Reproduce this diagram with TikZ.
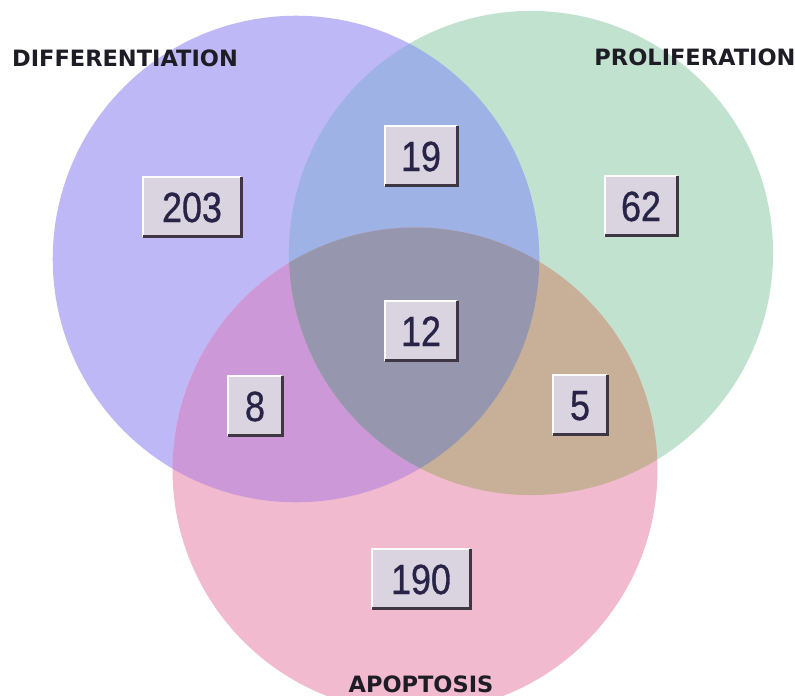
\documentclass[tikz,border=0pt]{standalone}
\usepackage{fontspec}
\setmainfont{Liberation Sans}
\newfontfamily\namefont{DejaVu Sans}
\newfontfamily\numfont[FakeStretch=0.85,FakeBold=0.8]{Liberation Sans}
\usetikzlibrary{positioning}

\definecolor{diffcol}{RGB}{190,184,246}
\definecolor{prolcol}{RGB}{194,226,208}
\definecolor{apopcol}{RGB}{241,186,206}
\definecolor{dpcol}{RGB}{158,178,230}
\definecolor{dacol}{RGB}{205,152,216}
\definecolor{pacol}{RGB}{200,176,152}
\definecolor{allcol}{RGB}{150,150,174}
\definecolor{boxfill}{RGB}{218,212,224}
\definecolor{boxedge}{RGB}{62,54,66}
\definecolor{numcol}{RGB}{40,36,72}
\definecolor{namecol}{RGB}{30,28,36}

\tikzset{
    count/.style={fill=boxfill, text=numcol, font=\numfont\fontsize{30}{30}\selectfont,
        inner xsep=0pt, inner ysep=0pt, minimum width=1.35cm, minimum height=1.47cm,
        text height=0.75cm, text depth=0pt},
    wide/.style={minimum width=1.8cm},
    wider/.style={minimum width=2.45cm},
    setname/.style={text=namecol, inner sep=0pt, font=\namefont\bfseries\fontsize{16}{16}\selectfont},
    shadow/.style={boxedge, line width=2.2pt},
    light/.style={white!92!boxfill, line width=1.4pt}
}

\begin{document}
\begin{tikzpicture}[x=0.025cm, y=-0.025cm]
    \clip (0,0) rectangle (795,696);
    \fill[white] (0,0) rectangle (795,696);

    % the three sets
    \coordinate (D) at (296,259);
    \coordinate (P) at (531,253);
    \coordinate (A) at (415,470);
    \fill[prolcol] (P) circle (6.05cm);
    \fill[diffcol] (D) circle (6.08cm);
    \fill[apopcol] (A) circle (6.06cm);

    % overlaps
    \begin{scope}
        \clip (D) circle (6.08cm);
        \fill[dpcol] (P) circle (6.05cm);
    \end{scope}
    \begin{scope}
        \clip (D) circle (6.08cm);
        \fill[dacol] (A) circle (6.06cm);
    \end{scope}
    \begin{scope}
        \clip (P) circle (6.05cm);
        \fill[pacol] (A) circle (6.06cm);
    \end{scope}
    \begin{scope}
        \clip (D) circle (6.08cm);
        \clip (P) circle (6.05cm);
        \fill[allcol] (A) circle (6.06cm);
    \end{scope}

    % set names
    \node[setname] (dname) at (125,58) {DIFFERENTIATION};
    \node[setname] (pname) at (695,57) {PROLIFERATION};
    \node[setname] (aname) at (421,684) {APOPTOSIS};

    % counts
    \node[count, wider] (d) at (192,207) {203};
    \node[count, wide] (dp) at (421,156) {19};
    \node[count, wide] (p) at (641,206) {62};
    \node[count, wide] (dpa) at (421,331) {12};
    \node[count] (da) at (255,406) {8};
    \node[count] (pa) at (580,405) {5};
    \node[count, wider] (a) at (421,579) {190};

    % raised edges
    \foreach \n in {d,dp,p,dpa,da,pa,a} {
        \draw[light] (\n.south west) -- (\n.north west) -- (\n.north east);
        \draw[shadow] (\n.north east) -- (\n.south east) -- (\n.south west);
    }
\end{tikzpicture}
\end{document}
